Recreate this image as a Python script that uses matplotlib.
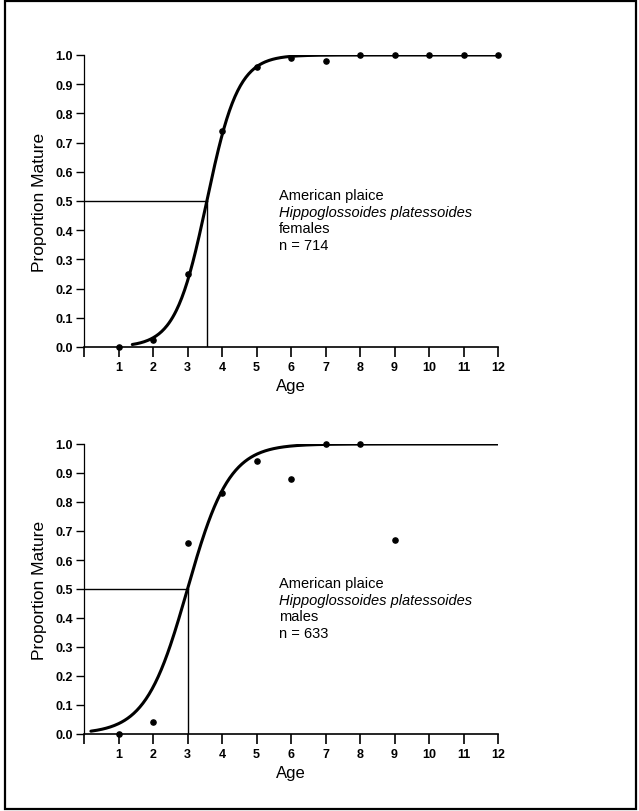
import numpy as np
import matplotlib
matplotlib.use("Agg")
import matplotlib.pyplot as plt
from matplotlib.patches import Rectangle

plt.rcParams['font.family'] = ['Liberation Sans', 'DejaVu Sans']

# Observed proportions mature by age
fem_age = [1, 2, 3, 4, 5, 6, 7, 8, 9, 10, 11, 12]
fem_prop = [0.0, 0.025, 0.25, 0.74, 0.96, 0.99, 0.98, 1.0, 1.0, 1.0, 1.0, 1.0]
male_age = [1, 2, 3, 4, 5, 6, 7, 8, 9]
male_prop = [0.0, 0.04, 0.66, 0.83, 0.94, 0.88, 1.0, 1.0, 0.67]

# Fitted logistic parameters (A50, slope, curve start/end age)
fem_a50, fem_slope, fem_range = 3.56, 2.2, (1.4, 12.0)
male_a50, male_slope, male_range = 3.0, 1.65, (0.2, 12.0)

fem_text = ["American plaice", "Hippoglossoides platessoides", "females", "n = 714"]
male_text = ["American plaice", "Hippoglossoides platessoides", "males", "n = 633"]

yticks = [0.0, 0.1, 0.2, 0.3, 0.4, 0.5, 0.6, 0.7, 0.8, 0.9, 1.0]
xticks = list(range(0, 13))
xticklabels = [""] + [str(i) for i in range(1, 13)]

W, H = 639, 812
fig = plt.figure(figsize=(W / 100, H / 100), dpi=100)
fig.patches.append(Rectangle((5 / W, 2 / H), (636 - 5) / W, (810 - 2) / H,
                             transform=fig.transFigure, fill=False,
                             edgecolor='black', linewidth=1.6))


def panel(rect, ages, props, a50, slope, rng, lines):
    ax = fig.add_axes(rect)
    x = np.linspace(rng[0], rng[1], 400)
    y = 1.0 / (1.0 + np.exp(-slope * (x - a50)))
    ax.plot(x, y, color='black', linewidth=2.2, solid_capstyle='round')
    ax.scatter(ages, props, s=14, color='black', zorder=3, clip_on=False)
    ax.plot([0, a50], [0.5, 0.5], color='black', linewidth=1.0)
    ax.plot([a50, a50], [0, 0.5], color='black', linewidth=1.0)
    ax.set_xlim(0, 12)
    ax.set_ylim(0, 1.0)
    ax.spines['top'].set_visible(False)
    ax.spines['right'].set_visible(False)
    ax.spines['left'].set_linewidth(0.9)
    ax.spines['bottom'].set_linewidth(1.2)
    ax.set_yticks(yticks)
    ax.set_yticklabels([f"{v:.1f}" for v in yticks], fontsize=9, fontweight='bold')
    ax.set_xticks(xticks)
    ax.set_xticklabels(xticklabels, fontsize=9, fontweight='bold')
    ax.tick_params(axis='y', length=6, width=1.0, pad=2)
    ax.tick_params(axis='x', length=7, width=1.2, pad=3)
    ax.set_ylabel("Proportion Mature", fontsize=12.5, labelpad=6)
    ax.set_xlabel("Age", fontsize=12, labelpad=4)
    ys = [0.507, 0.449, 0.394, 0.335]
    for i, (t, yy) in enumerate(zip(lines, ys)):
        ax.text(5.65, yy, t, fontsize=10.5, style='italic' if i == 1 else 'normal',
                va='baseline', ha='left')
    return ax


panel([84 / W, (H - 348) / H, (498 - 84) / W, (348 - 56) / H],
      fem_age, fem_prop, fem_a50, fem_slope, fem_range, fem_text)
panel([84 / W, (H - 735) / H, (498 - 84) / W, (735 - 445) / H],
      male_age, male_prop, male_a50, male_slope, male_range, male_text)

fig.savefig("out.png", dpi=100)
